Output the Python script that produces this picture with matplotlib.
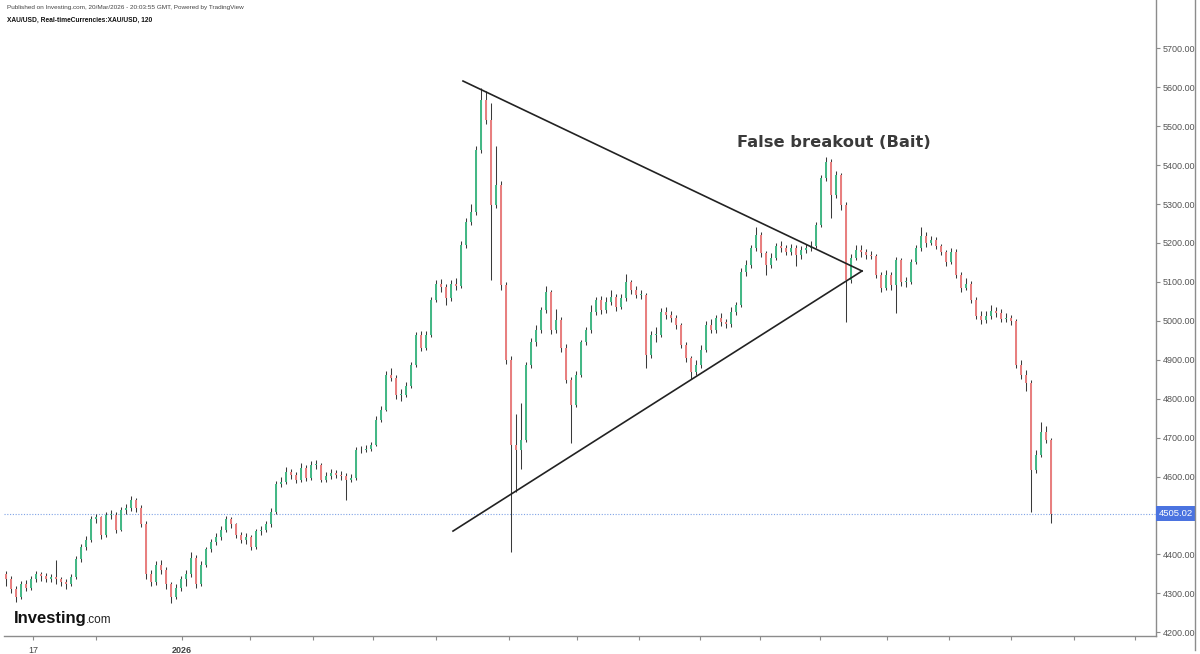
import matplotlib
matplotlib.use("Agg")
import matplotlib.pyplot as plt
from matplotlib.lines import Line2D
import numpy as np

# XAU/USD 2h candles, resampled (one bar ~ 5 px of the original chart)
first_open = 4350
closes = [
    4336, 4310, 4290, 4323, 4315, 4336, 4349, 4344, 4336, 4341,
    4336, 4328, 4323, 4341, 4387, 4420, 4438, 4490, 4495, 4451,
    4502, 4502, 4464, 4515, 4520, 4541, 4520, 4477, 4349, 4328,
    4374, 4361, 4323, 4290, 4315, 4336, 4349, 4392, 4323, 4374,
    4413, 4431, 4446, 4464, 4490, 4477, 4451, 4438, 4444, 4420,
    4459, 4464, 4477, 4510, 4580, 4587, 4613, 4605, 4592, 4623,
    4597, 4631, 4631, 4592, 4602, 4608, 4605, 4602, 4592, 4597,
    4667, 4669, 4672, 4682, 4746, 4772, 4862, 4854, 4810, 4810,
    4833, 4887, 4964, 4931, 4964, 5054, 5095, 5087, 5059, 5095,
    5090, 5195, 5254, 5279, 5438, 5567, 5515, 5297, 5349, 5092,
    4900, 4682, 4669, 4695, 4887, 4946, 4977, 5028, 5074, 4977,
    5003, 4931, 4849, 4785, 4862, 4946, 4977, 5023, 5054, 5028,
    5049, 5062, 5036, 5059, 5100, 5079, 5067, 5067, 4913, 4964,
    4964, 5023, 5015, 5008, 4990, 4938, 4905, 4869, 4887, 4926,
    4990, 4977, 5008, 4997, 4992, 5023, 5041, 5126, 5144, 5187,
    5221, 5174, 5144, 5162, 5192, 5187, 5177, 5187, 5169, 5182,
    5187, 5192, 5246, 5367, 5408, 5323, 5374, 5297, 5105, 5162,
    5182, 5177, 5169, 5167, 5118, 5085, 5118, 5092, 5156, 5100,
    5100, 5151, 5187, 5218, 5200, 5208, 5192, 5177, 5151, 5177,
    5118, 5085, 5095, 5054, 5013, 5003, 5013, 5026, 5021, 5005,
    5008, 5000, 4887, 4862, 4841, 4618, 4656, 4715, 4695, 4505.02,
]
highs = [
    4358, 4345, 4318, 4332, 4335, 4345, 4358, 4356, 4352, 4350,
    4385, 4342, 4336, 4350, 4395, 4428, 4448, 4498, 4505, 4500,
    4510, 4515, 4508, 4522, 4530, 4550, 4546, 4528, 4485, 4360,
    4382, 4385, 4368, 4330, 4325, 4345, 4360, 4405, 4398, 4382,
    4420, 4440, 4455, 4472, 4498, 4496, 4482, 4458, 4455, 4450,
    4466, 4472, 4485, 4518, 4588, 4600, 4625, 4620, 4612, 4635,
    4630, 4640, 4642, 4636, 4612, 4620, 4618, 4615, 4610, 4606,
    4675, 4678, 4680, 4690, 4755, 4780, 4870, 4880, 4860, 4825,
    4842, 4895, 4972, 4975, 4975, 5062, 5105, 5108, 5095, 5105,
    5110, 5205, 5265, 5300, 5450, 5598, 5590, 5560, 5450, 5360,
    5100, 4910, 4760, 4790, 4895, 4955, 4990, 5035, 5090, 5080,
    5030, 5010, 4940, 4855, 4870, 4952, 4985, 5040, 5062, 5065,
    5060, 5080, 5068, 5068, 5120, 5105, 5090, 5080, 5072, 4975,
    4985, 5032, 5035, 5025, 5015, 4995, 4945, 4910, 4900, 4938,
    5000, 5005, 5015, 5020, 5005, 5035, 5048, 5135, 5155, 5195,
    5240, 5228, 5180, 5175, 5200, 5205, 5196, 5198, 5195, 5192,
    5198, 5205, 5255, 5375, 5420, 5415, 5385, 5380, 5305, 5172,
    5195, 5195, 5185, 5180, 5172, 5125, 5130, 5125, 5165, 5162,
    5112, 5160, 5195, 5240, 5228, 5218, 5215, 5198, 5182, 5188,
    5185, 5125, 5110, 5102, 5060, 5025, 5025, 5040, 5035, 5030,
    5020, 5015, 5005, 4900, 4875, 4848, 4668, 4740, 4730, 4700,
]
lows = [
    4318, 4300, 4278, 4285, 4305, 4308, 4330, 4333, 4328, 4330,
    4325, 4318, 4312, 4318, 4336, 4380, 4412, 4432, 4482, 4440,
    4446, 4490, 4455, 4460, 4505, 4512, 4510, 4470, 4338, 4318,
    4322, 4350, 4312, 4275, 4285, 4305, 4318, 4342, 4315, 4318,
    4368, 4405, 4425, 4438, 4458, 4468, 4442, 4430, 4428, 4412,
    4415, 4450, 4458, 4470, 4505, 4572, 4580, 4595, 4583, 4585,
    4588, 4590, 4620, 4585, 4585, 4595, 4596, 4592, 4541, 4585,
    4592, 4660, 4662, 4665, 4678, 4740, 4768, 4845, 4800, 4795,
    4805, 4828, 4882, 4922, 4925, 4958, 5048, 5075, 5040, 5052,
    5080, 5085, 5188, 5245, 5272, 5430, 5505, 5105, 5290, 5080,
    4890, 4405, 4560, 4620, 4690, 4880, 4935, 4970, 5020, 4965,
    4968, 4920, 4840, 4686, 4778, 4855, 4938, 4970, 5015, 5018,
    5020, 5040, 5025, 5030, 5050, 5070, 5058, 5055, 4880, 4905,
    4945, 4958, 5005, 4998, 4980, 4930, 4895, 4850, 4860, 4880,
    4920, 4968, 4970, 4988, 4982, 4985, 5015, 5035, 5115, 5135,
    5180, 5165, 5118, 5135, 5155, 5178, 5168, 5170, 5142, 5160,
    5175, 5180, 5188, 5240, 5360, 5265, 5315, 5285, 4998, 5098,
    5155, 5165, 5160, 5158, 5110, 5075, 5078, 5080, 5020, 5090,
    5088, 5095, 5145, 5180, 5190, 5195, 5185, 5168, 5142, 5145,
    5110, 5075, 5078, 5045, 5005, 4992, 4995, 5005, 5010, 4998,
    4998, 4990, 4878, 4850, 4820, 4508, 4610, 4650, 4685, 4480,
]
last_price = 4505.02

# weekly separators on the time axis (bar units) and their labels
tick_pos = [5.4, 18, 35.2, 48.8, 61.4, 73.4, 86, 100.6, 114.2, 126.6,
            138.8, 150.8, 162.8, 176.2, 188.6, 201, 213.6, 225.8]
tick_lab = ["17", "", "2026", "", "", "", "", "", "", "",
            "", "", "", "", "", "", "", ""]
price_ticks = [4200, 4300, 4400, 4500, 4600, 4700, 4800, 4900,
               5000, 5100, 5200, 5300, 5400, 5500, 5600, 5700]

# hand-drawn symmetrical triangle (bar index, price)
upper_line = ([91.4, 171.2], [5616, 5128])
lower_line = ([89.4, 171.2], [4460, 5128])

UP = "#45b886"
DOWN = "#e88080"
WICK = "#3a3a3a"
GRID = "#8c8c8c"

opens = np.r_[first_open, closes[:-1]]
closes = np.array(closes, dtype=float)
highs = np.array(highs, dtype=float)
lows = np.array(lows, dtype=float)
idx = np.arange(len(closes))
up = closes >= opens

fig = plt.figure(figsize=(12, 6.54), dpi=100)
ax = fig.add_axes([4 / 1200, 1 - 636 / 654, 1152 / 1200, 636 / 654])

ax.vlines(idx, lows, highs, color=WICK, lw=0.75, zorder=2)
body_lo = np.minimum(opens, closes)
body_h = np.maximum(np.abs(closes - opens), 2)
ax.bar(idx, body_h, bottom=body_lo, width=0.45,
       color=np.where(up, UP, DOWN), edgecolor="none", zorder=3)

ax.plot(*upper_line, color="#222222", lw=1.2, zorder=4)
ax.plot(*lower_line, color="#222222", lw=1.2, zorder=4)
ax.text(165.6, 5459, "False breakout (Bait)", ha="center", va="center",
        fontsize=11.7, fontweight="bold", color="#3a3a3a", family="DejaVu Sans")

ax.axhline(last_price, color="#7fa3e6", lw=0.8, ls=(0, (1, 1.5)), zorder=1)

ax.set_xlim(-0.4, 230)
ax.set_ylim(4190.5, 5824.1)
for s in ["top", "left"]:
    ax.spines[s].set_visible(False)
for s in ["bottom", "right"]:
    ax.spines[s].set_color(GRID)
    ax.spines[s].set_linewidth(1.0)

# the 4500 label sits under the last-price tag, so it is not shown
ax.yaxis.tick_right()
ax.set_yticks(price_ticks)
ax.set_yticklabels(["" if p == 4500 else f"{p:.2f}" for p in price_ticks])
ax.tick_params(axis="y", direction="out", length=3, width=0.8, color=GRID,
               labelsize=6.5, labelcolor="#555555", pad=2)
ax.set_xticks(tick_pos)
ax.set_xticklabels(tick_lab)
ax.tick_params(axis="x", direction="out", length=3, width=0.8, color=GRID,
               labelsize=6.5, labelcolor="#444444", pad=4)
for lab in ax.get_yticklabels() + ax.get_xticklabels():
    lab.set_family("Liberation Sans")
ax.get_xticklabels()[2].set_fontweight("bold")

# last price tag
ax.annotate(f"{last_price:.2f}", xy=(1.0, last_price),
            xycoords=("axes fraction", "data"), xytext=(2, 0),
            textcoords="offset points", ha="left", va="center",
            fontsize=6.8, color="white", family="Liberation Sans",
            bbox=dict(boxstyle="square,pad=0.3", fc="#4b73e0", ec="none"),
            annotation_clip=False, zorder=6)

# frame on the far right
fig.add_artist(Line2D([1195 / 1200, 1195 / 1200], [1 - 650 / 654, 1],
                      color=GRID, lw=1.0))

# header
fig.text(7 / 1200, 1 - 8 / 654,
         "Published on Investing.com, 20/Mar/2026 - 20:03:55 GMT, Powered by TradingView",
         fontsize=4.6, color="#444444", va="center", family="Liberation Sans")
fig.text(7 / 1200, 1 - 20 / 654, "XAU/USD, Real-timeCurrencies:XAU/USD, 120",
         fontsize=4.8, color="#111111", fontweight="bold", va="center",
         family="Liberation Sans")

# logo
fig.text(14 / 1200, 1 - 618 / 654, "Investing", fontsize=12, fontweight="bold",
         color="#111111", va="center", family="Liberation Sans")
fig.text(86 / 1200, 1 - 620 / 654, ".com", fontsize=8.5, color="#222222",
         va="center", family="Liberation Sans")

fig.savefig("out.png", dpi=100)
